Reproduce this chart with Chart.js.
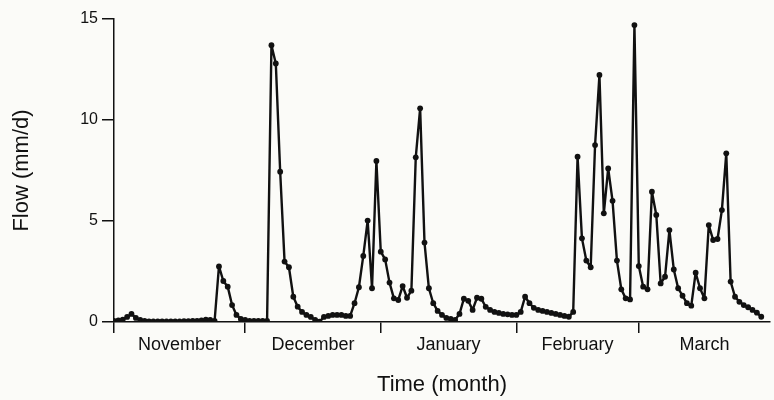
<!DOCTYPE html>
<html>
<head>
<meta charset="utf-8">
<script src="https://cdn.jsdelivr.net/npm/chart.js@4"></script>
<style>
    html, body { margin: 0; padding: 0; background: #fbfbf8; }
    #chartContainer { width: 774px; height: 400px; }
</style>
</head>
<body>
<div id="chartContainer"><canvas id="myChart"></canvas></div>
<script>
// daily flow, 1 Nov .. 29 Mar (mm/d)
const flow = [
    // November
    0.05, 0.08, 0.12, 0.25, 0.4, 0.2, 0.1, 0.05, 0.03, 0.03,
    0.03, 0.03, 0.03, 0.03, 0.03, 0.03, 0.04, 0.04, 0.05, 0.06,
    0.08, 0.12, 0.1, 0.05, 2.75, 2.03, 1.75, 0.84, 0.35, 0.15,
    // December
    0.1, 0.06, 0.05, 0.05, 0.05, 0.05, 13.7, 12.8, 7.44, 2.99,
    2.71, 1.25, 0.76, 0.5, 0.35, 0.25, 0.1, 0.02, 0.25, 0.3,
    0.35, 0.35, 0.35, 0.3, 0.3, 0.93, 1.72, 3.27, 5.02, 1.67,
    7.97,
    // January
    3.48, 3.1, 1.95, 1.17, 1.09, 1.78, 1.2, 1.55, 8.15, 10.58,
    3.93, 1.67, 0.93, 0.55, 0.35, 0.2, 0.15, 0.1, 0.4, 1.15,
    1.05, 0.6, 1.2, 1.15, 0.75, 0.6, 0.5, 0.45, 0.4, 0.38,
    0.35,
    // February
    0.35, 0.5, 1.25, 0.93, 0.7, 0.6, 0.55, 0.5, 0.45, 0.4,
    0.35, 0.3, 0.26, 0.5, 8.18, 4.14, 3.04, 2.71, 8.76, 12.23,
    5.38, 7.6, 6.0, 3.04, 1.62, 1.17, 1.12, 14.7,
    // March
    2.77, 1.75, 1.62, 6.45, 5.3, 1.91, 2.24, 4.55, 2.6, 1.67,
    1.3, 0.93, 0.81, 2.44, 1.67, 1.17, 4.8, 4.06, 4.11, 5.54,
    8.35, 2.0, 1.25, 1.0, 0.84, 0.73, 0.6, 0.46, 0.26
];

const monthNames = ['November', 'December', 'January', 'February', 'March'];
const monthStart = [0, 30, 61, 92, 120];   // day number of the 1st
const monthMid = [15, 45.5, 76.5, 106, 135];
const yTicks = [0, 5, 10, 15];

const days = flow.map((v, i) => i);
const ink = '#111111';
const fontFamily = '"Liberation Sans", Arial, Helvetica, sans-serif';

let myChart = null;

function createChart() {
    if (myChart !== null) {
        myChart.destroy();
    }

    const ctx = document.getElementById('myChart').getContext('2d');
    myChart = new Chart(ctx, {
        type: 'line',
        data: {
            labels: days,
            datasets: [{
                label: 'Flow',
                data: flow,
                borderColor: ink,
                borderWidth: 2.4,
                borderJoinStyle: 'round',
                pointRadius: 2.9,
                pointBackgroundColor: ink,
                pointBorderWidth: 0,
                tension: 0,
                fill: false
            }]
        },
        options: {
            animation: false,
            maintainAspectRatio: false,
            responsive: true,
            layout: {
                padding: { top: 19, right: 1.5, bottom: 0, left: 0 }
            },
            plugins: {
                legend: { display: false },
                tooltip: { enabled: false }
            },
            scales: {
                x: {
                    type: 'linear',
                    min: 0,
                    max: 150,
                    position: 'bottom',
                    afterBuildTicks: (scale) => {
                        scale.ticks = monthStart.concat(monthMid)
                            .sort((a, b) => a - b)
                            .map(v => ({ value: v }));
                    },
                    afterFit: (scale) => { scale.height = 78; },
                    border: { display: true, color: ink, width: 1.5 },
                    grid: {
                        drawOnChartArea: false,
                        tickLength: 11,
                        lineWidth: 1.5,
                        tickColor: (c) => monthStart.includes(c.tick.value) ? ink : 'rgba(0,0,0,0)'
                    },
                    ticks: {
                        autoSkip: false,
                        maxRotation: 0,
                        padding: 1,
                        color: ink,
                        font: { family: fontFamily, size: 18 },
                        callback: (value) => {
                            const i = monthMid.indexOf(value);
                            return i >= 0 ? monthNames[i] : '';
                        }
                    },
                    title: {
                        display: true,
                        text: 'Time (month)',
                        color: ink,
                        padding: { top: 0, bottom: 2 },
                        font: { family: fontFamily, size: 22 }
                    }
                },
                y: {
                    min: 0,
                    max: 15,
                    position: 'left',
                    afterBuildTicks: (scale) => {
                        scale.ticks = yTicks.map(v => ({ value: v }));
                    },
                    afterFit: (scale) => { scale.width = 114; },
                    border: { display: true, color: ink, width: 1.5 },
                    grid: {
                        drawOnChartArea: false,
                        tickLength: 12,
                        lineWidth: 1.5,
                        color: ink
                    },
                    ticks: {
                        padding: 4,
                        color: ink,
                        font: { family: fontFamily, size: 16 }
                    },
                    title: {
                        display: true,
                        text: 'Flow (mm/d)',
                        color: ink,
                        padding: { top: 9, bottom: 0 },
                        font: { family: fontFamily, size: 22 }
                    }
                }
            }
        }
    });
}

createChart();
</script>
</body>
</html>
